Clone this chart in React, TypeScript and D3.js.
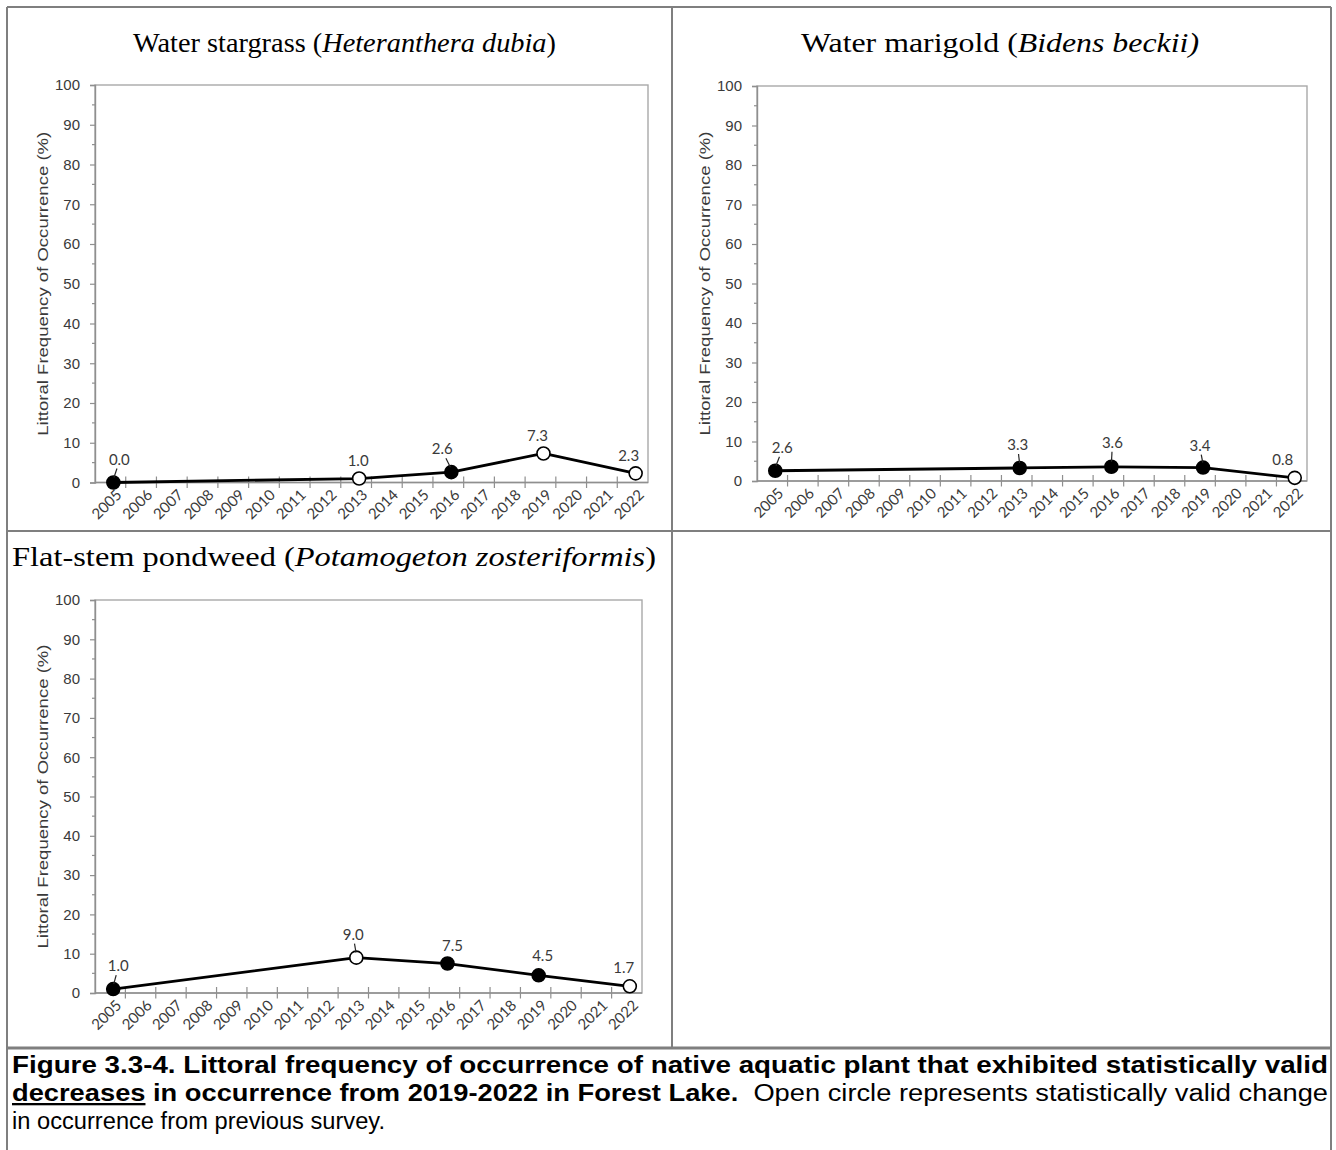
import React, { useEffect, useRef } from "react";
import * as d3 from "d3";

const YEARS = [
  "2005", "2006", "2007", "2008", "2009", "2010", "2011", "2012", "2013",
  "2014", "2015", "2016", "2017", "2018", "2019", "2020", "2021", "2022",
];
const SURVEY_YEARS = ["2005", "2013", "2016", "2019", "2022"];
const Y_TICKS = [0, 10, 20, 30, 40, 50, 60, 70, 80, 90, 100];
const Y_MINOR = [5, 15, 25, 35, 45, 55, 65, 75, 85, 95];

const STARGRASS = [0.0, 1.0, 2.6, 7.3, 2.3];
const STARGRASS_OPEN = [false, true, false, true, true];
const MARIGOLD = [2.6, 3.3, 3.6, 3.4, 0.8];
const MARIGOLD_OPEN = [false, false, false, false, true];
const PONDWEED = [1.0, 9.0, 7.5, 4.5, 1.7];
const PONDWEED_OPEN = [false, true, false, false, true];

const Y_TITLE = "Littoral Frequency of Occurrence (%)";

// label placement relative to its marker (dx, dy, leader line?)
const STARGRASS_LABELS = [
  { dx: 6, dy: -24, lead: true },
  { dx: -1, dy: -19, lead: false },
  { dx: -9, dy: -24, lead: true },
  { dx: -6, dy: -18, lead: false },
  { dx: -7, dy: -18, lead: false },
];
const MARIGOLD_LABELS = [
  { dx: 7, dy: -24, lead: true },
  { dx: -2, dy: -24, lead: true },
  { dx: 1, dy: -25, lead: true },
  { dx: -3, dy: -23, lead: true },
  { dx: -12, dy: -19, lead: false },
];
const PONDWEED_LABELS = [
  { dx: 5, dy: -24, lead: true },
  { dx: -3, dy: -24, lead: true },
  { dx: 5, dy: -19, lead: false },
  { dx: 4, dy: -20, lead: false },
  { dx: -6, dy: -19, lead: false },
];

const PANELS = [
  {
    title: [["Water stargrass (", false], ["Heteranthera dubia", true], [")", false]],
    titleX: 133, titleY: 52, titleW: 423,
    values: STARGRASS, open: STARGRASS_OPEN, labels: STARGRASS_LABELS,
    left: 95, right: 648, top: 85, bottom: 482.5,
  },
  {
    title: [["Water marigold (", false], ["Bidens beckii)", true]],
    titleX: 801, titleY: 52, titleW: 398,
    values: MARIGOLD, open: MARIGOLD_OPEN, labels: MARIGOLD_LABELS,
    left: 757, right: 1307, top: 86, bottom: 481,
  },
  {
    title: [["Flat-stem pondweed (", false], ["Potamogeton zosteriformis", true], [")", false]],
    titleX: 12, titleY: 566, titleW: 644,
    values: PONDWEED, open: PONDWEED_OPEN, labels: PONDWEED_LABELS,
    left: 95, right: 642, top: 600, bottom: 993,
  },
];

const AXIS_GREY = "#8f8f8f";
const TEXT_GREY = "#3a3a3a";
const RULE = "#7f7f7f";
const SANS = "'Liberation Sans', Arial, sans-serif";
const LABEL_FONT = "Lato, 'Open Sans', sans-serif";

function drawPanel(svg, p) {
  const x = d3.scaleBand().domain(YEARS).range([p.left, p.right]);
  const y = d3.scaleLinear().domain([0, 100]).range([p.bottom, p.top]);
  const cx = (yr) => x(yr) + x.bandwidth() / 2 + 3;

  const g = svg.append("g");

  g.append("rect")
    .attr("x", p.left).attr("y", p.top)
    .attr("width", p.right - p.left).attr("height", p.bottom - p.top)
    .attr("fill", "none").attr("stroke", "#a9a9a9").attr("stroke-width", 1.4);

  // y axis
  g.append("g")
    .attr("transform", `translate(${p.left},0)`)
    .call(d3.axisLeft(y).tickValues(Y_TICKS).tickSize(5).tickPadding(10))
    .call((s) => s.select(".domain").attr("stroke", AXIS_GREY).attr("stroke-width", 1.4))
    .call((s) => s.selectAll(".tick line").attr("stroke", AXIS_GREY).attr("stroke-width", 1.2))
    .selectAll("text")
    .attr("font-family", SANS).attr("font-size", 15).attr("fill", TEXT_GREY);

  g.append("g").selectAll("line").data(Y_MINOR).join("line")
    .attr("x1", p.left - 3).attr("x2", p.left)
    .attr("y1", (d) => y(d)).attr("y2", (d) => y(d))
    .attr("stroke", AXIS_GREY).attr("stroke-width", 1.2);

  g.append("text")
    .attr("transform", `translate(${p.left - 53},${(p.top + p.bottom) / 2}) rotate(-90)`)
    .attr("x", -152)
    .attr("dominant-baseline", "central")
    .attr("textLength", 304).attr("lengthAdjust", "spacingAndGlyphs")
    .attr("font-family", SANS).attr("font-size", 15).attr("fill", TEXT_GREY)
    .text(Y_TITLE);

  // x axis
  g.append("line")
    .attr("x1", p.left).attr("x2", p.right).attr("y1", p.bottom).attr("y2", p.bottom)
    .attr("stroke", AXIS_GREY).attr("stroke-width", 1.4);

  g.append("g").selectAll("line").data(YEARS.slice(1)).join("line")
    .attr("x1", (d) => x(d)).attr("x2", (d) => x(d))
    .attr("y1", p.bottom - 6).attr("y2", p.bottom + 5.5)
    .attr("stroke", AXIS_GREY).attr("stroke-width", 1.2);

  g.append("g").selectAll("text").data(YEARS).join("text")
    .attr("transform", (d) => `translate(${x(d) + x.bandwidth() / 2 + 8},${p.bottom + 9}) rotate(-45)`)
    .attr("text-anchor", "end").attr("dominant-baseline", "central")
    .attr("font-family", LABEL_FONT).attr("font-size", 15).attr("fill", TEXT_GREY)
    .text((d) => d);

  // series
  const pts = SURVEY_YEARS.map((yr, i) => ({
    x: cx(yr), y: y(p.values[i]), v: p.values[i], open: p.open[i], lab: p.labels[i],
  }));

  g.append("path")
    .datum(pts)
    .attr("d", d3.line().x((d) => d.x).y((d) => d.y))
    .attr("fill", "none").attr("stroke", "#000").attr("stroke-width", 2.8)
    .attr("stroke-linejoin", "round");

  g.append("g").selectAll("circle").data(pts).join("circle")
    .attr("cx", (d) => d.x).attr("cy", (d) => d.y).attr("r", 6.5)
    .attr("fill", (d) => (d.open ? "#fff" : "#000"))
    .attr("stroke", "#000").attr("stroke-width", 1.6);

  g.append("g").selectAll("line").data(pts.filter((d) => d.lab.lead)).join("line")
    .attr("x1", (d) => d.x + d.lab.dx * 0.6).attr("y1", (d) => d.y + d.lab.dy + 10)
    .attr("x2", (d) => d.x + d.lab.dx * 0.1).attr("y2", (d) => d.y - 5)
    .attr("stroke", "#262626").attr("stroke-width", 1.2);

  g.append("g").selectAll("text").data(pts).join("text")
    .attr("x", (d) => d.x + d.lab.dx).attr("y", (d) => d.y + d.lab.dy)
    .attr("text-anchor", "middle").attr("dominant-baseline", "central")
    .attr("font-family", LABEL_FONT).attr("font-size", 15).attr("fill", TEXT_GREY)
    .text((d) => d.v.toFixed(1));

  // title
  const t = svg.append("text")
    .attr("x", p.titleX).attr("y", p.titleY)
    .attr("textLength", p.titleW).attr("lengthAdjust", "spacingAndGlyphs")
    .attr("font-family", "'Liberation Serif', 'Times New Roman', serif")
    .attr("font-size", 28).attr("fill", "#000");
  p.title.forEach(([s, it]) => {
    t.append("tspan").attr("font-style", it ? "italic" : "normal").text(s);
  });
}

function drawFrame(svg) {
  const lines = [
    [7, 7, 1331, 7, 2],
    [7, 7, 7, 1150, 2],
    [1331, 7, 1331, 1150, 2],
    [672, 7, 672, 1049, 2],
    [7, 531, 1331, 531, 2],
    [7, 1048, 1331, 1048, 3],
  ];
  svg.append("g").selectAll("line").data(lines).join("line")
    .attr("x1", (d) => d[0]).attr("y1", (d) => d[1])
    .attr("x2", (d) => d[2]).attr("y2", (d) => d[3])
    .attr("stroke", RULE).attr("stroke-width", (d) => d[4]);
}

function captionLine(svg, y, width) {
  const t = svg.append("text").attr("x", 12).attr("y", y)
    .attr("font-family", SANS).attr("font-size", 23).attr("fill", "#000")
    .attr("textLength", width).attr("lengthAdjust", "spacingAndGlyphs");
  return t;
}

function drawCaption(svg) {
  const l1 = captionLine(svg, 1073, 1316);
  l1.append("tspan").attr("font-weight", "bold")
    .text("Figure 3.3-4. Littoral frequency of occurrence of native aquatic plant that exhibited statistically valid");

  const l2 = captionLine(svg, 1101, 1316);
  l2.append("tspan").attr("font-weight", "bold").attr("text-decoration", "underline").text("decreases");
  l2.append("tspan").attr("font-weight", "bold").text(" in occurrence from 2019-2022 in Forest Lake.");
  l2.append("tspan").text("\u00a0 Open circle represents statistically valid change");

  const l3 = captionLine(svg, 1129, 373);
  l3.text("in occurrence from previous survey.");
}

export default function App() {
  const ref = useRef<SVGSVGElement>(null);

  useEffect(() => {
    if (!ref.current) return;
    const svg = d3.select(ref.current);
    svg.selectAll("*").remove();
    drawFrame(svg);
    PANELS.forEach((p) => drawPanel(svg, p));
    drawCaption(svg);
  }, []);

  return (
    <div style={{ position: "absolute", left: 0, top: 0, background: "#fff" }}>
      <svg ref={ref} width={1336} height={1150} style={{ display: "block" }} />
    </div>
  );
}
